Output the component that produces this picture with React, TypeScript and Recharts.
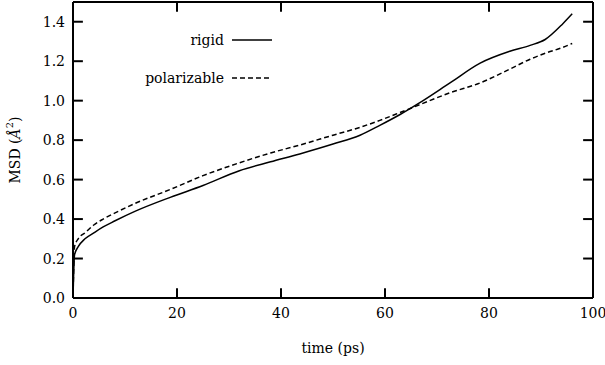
import React from 'react';
import { LineChart, Line, XAxis, YAxis, ReferenceLine } from 'recharts';

const time = [0, 0.3, 1, 2.3, 4, 5.8, 8, 12, 18.7, 25, 32, 38, 43.6, 50, 55.2, 59, 62.9, 66.7, 72.5, 78.3, 84, 87.9, 90.8, 94.2, 96];
const rigid = [0, 0.22, 0.26, 0.3, 0.33, 0.36, 0.39, 0.44, 0.51, 0.57, 0.645, 0.69, 0.73, 0.78, 0.825, 0.875, 0.93, 0.99, 1.09, 1.19, 1.25, 1.28, 1.31, 1.39, 1.44];
const polarizable = [0, 0.26, 0.3, 0.33, 0.37, 0.4, 0.43, 0.48, 0.55, 0.62, 0.685, 0.735, 0.775, 0.825, 0.865, 0.9, 0.94, 0.98, 1.04, 1.09, 1.16, 1.21, 1.24, 1.27, 1.29];
const xTicks = [0, 20, 40, 60, 80, 100];
const yTicks = [0, 0.2, 0.4, 0.6, 0.8, 1.0, 1.2, 1.4];
const legendRows = [
  { name: 'rigid', dash: undefined as string | undefined, top: 32 },
  { name: 'polarizable', dash: '5 3', top: 70 },
];

const data = time.map((t, i) => ({ t, rigid: rigid[i], polarizable: polarizable[i] }));

const font = 'DejaVu Serif';
const X_MAX = 100;
const Y_MAX = 1.5;
// inward tick length, in axis units (~10px)
const xLen = 1.9;
const yLen = 0.05;

function XLabelTick(props: any) {
  const { x, y, payload } = props;
  return <text x={x} y={y + 20} textAnchor="middle" fontFamily={font} fontSize={14} fill="#000">{payload.value}</text>;
}

function YLabelTick(props: any) {
  const { x, y, payload } = props;
  return <text x={x - 8} y={y + 5} textAnchor="end" fontFamily={font} fontSize={14} fill="#000">{Number(payload.value).toFixed(1)}</text>;
}

function LegendBox() {
  return (
    <div style={{ position: 'absolute', left: 0, top: 0, width: 300, height: 100, pointerEvents: 'none' }}>
      {legendRows.map((r) => (
        <div key={r.name} style={{ position: 'absolute', left: 0, top: r.top, width: 272, display: 'flex', alignItems: 'center', justifyContent: 'flex-end', fontFamily: font, fontSize: 14 }}>
          <span>{r.name}</span>
          <svg width={40} height={10} style={{ marginLeft: 8 }}>
            <line x1={0} y1={5} x2={40} y2={5} stroke="#000" strokeWidth={1.5} strokeDasharray={r.dash} />
          </svg>
        </div>
      ))}
    </div>
  );
}

function YLabel() {
  const cx = 16;
  const cy = 150;
  return (
    <text x={cx} y={cy} transform={`rotate(-90 ${cx} ${cy})`} textAnchor="middle" dominantBaseline="middle" fontFamily={font} fontSize={14} fill="#000">
      MSD (<tspan fontStyle="italic">Å</tspan><tspan dy={-6} fontSize={10}>2</tspan><tspan dy={6}>)</tspan>
    </text>
  );
}

export default function App() {
  const tickSegs: { x1: number; y1: number; x2: number; y2: number }[] = [];
  xTicks.forEach((x) => {
    tickSegs.push({ x1: x, y1: 0, x2: x, y2: yLen });
    tickSegs.push({ x1: x, y1: Y_MAX, x2: x, y2: Y_MAX - yLen });
  });
  yTicks.forEach((y) => {
    tickSegs.push({ x1: 0, y1: y, x2: xLen, y2: y });
    tickSegs.push({ x1: X_MAX, y1: y, x2: X_MAX - xLen, y2: y });
  });

  return (
    <div style={{ position: 'absolute', left: 0, top: 0, width: 605, height: 365, background: '#fff' }}>
      <LineChart width={605} height={365} data={data} margin={{ top: 1, right: 11, left: 0, bottom: 0 }}>
        <XAxis
          dataKey="t"
          type="number"
          domain={[0, X_MAX]}
          ticks={xTicks}
          xAxisId="b"
          height={67}
          tickSize={0}
          tickMargin={0}
          tickLine={false}
          tick={(p: any) => <XLabelTick {...p} />}
          stroke="#000"
          strokeWidth={2}
          label={{ value: 'time (ps)', position: 'insideBottom', offset: 12, fill: '#000', fontSize: 14, fontFamily: font }}
        />
        <XAxis
          dataKey="t"
          type="number"
          domain={[0, X_MAX]}
          xAxisId="top"
          orientation="top"
          height={1}
          tick={false}
          tickLine={false}
          stroke="#000"
          strokeWidth={2}
        />
        <YAxis
          yAxisId="l"
          type="number"
          domain={[0, Y_MAX]}
          ticks={yTicks}
          width={73}
          tickSize={0}
          tickMargin={0}
          tickLine={false}
          tick={(p: any) => <YLabelTick {...p} />}
          stroke="#000"
          strokeWidth={2}
          label={<YLabel />}
        />
        <YAxis
          yAxisId="r"
          orientation="right"
          type="number"
          domain={[0, Y_MAX]}
          width={1}
          tick={false}
          tickLine={false}
          stroke="#000"
          strokeWidth={2}
        />
        {tickSegs.map((s, i) => (
          <ReferenceLine
            key={i}
            xAxisId="b"
            yAxisId="l"
            segment={[{ x: s.x1, y: s.y1 }, { x: s.x2, y: s.y2 }]}
            stroke="#000"
            strokeWidth={2}
            ifOverflow="visible"
          />
        ))}
        <Line xAxisId="b" yAxisId="l" type="monotone" dataKey="rigid" stroke="#000" strokeWidth={1.5} dot={false} isAnimationActive={false} />
        <Line xAxisId="b" yAxisId="l" type="monotone" dataKey="polarizable" stroke="#000" strokeWidth={1.5} strokeDasharray="5 3" dot={false} isAnimationActive={false} />
      </LineChart>
      <LegendBox />
    </div>
  );
}
